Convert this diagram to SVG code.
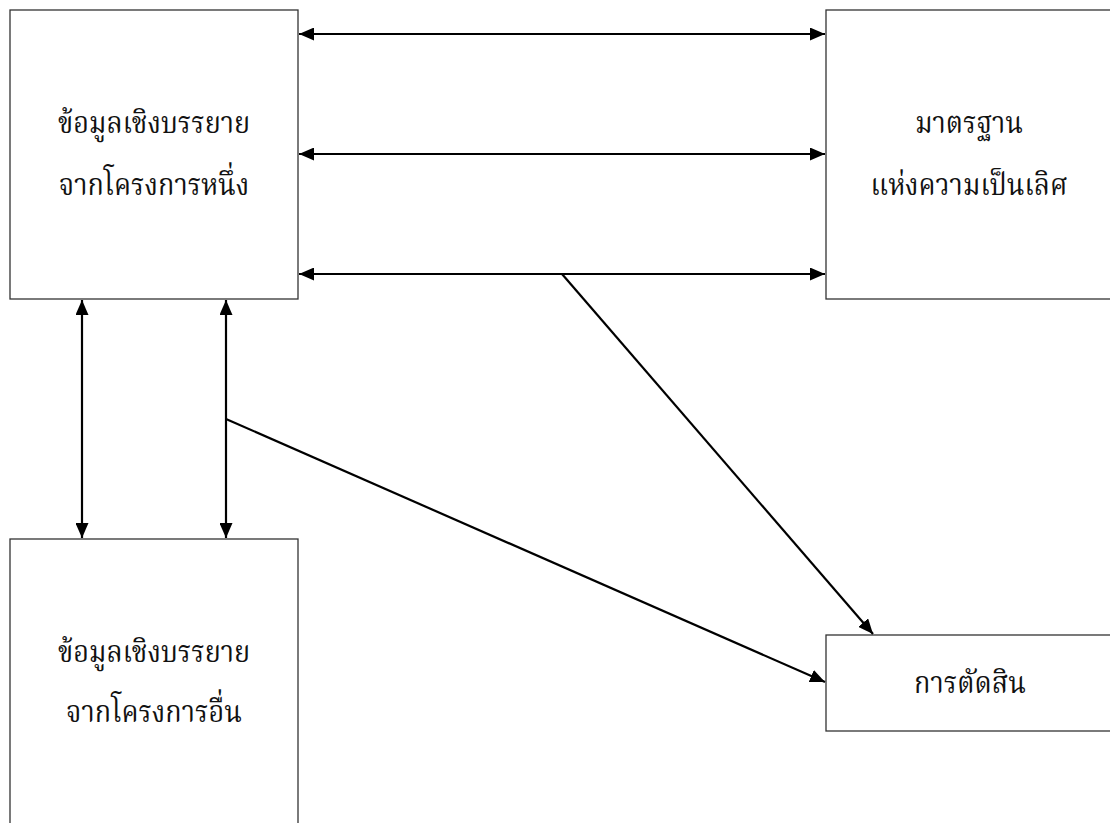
<svg xmlns="http://www.w3.org/2000/svg" width="1110" height="823" viewBox="0 0 1110 823">
<style>
.box{fill:#fff;stroke:#333;stroke-width:1.3}
.lbl{font-family:"Noto Serif Thai","Norasi","Liberation Serif",serif;font-size:31px;fill:#111;text-anchor:middle}
.con{stroke:#000;stroke-width:2.2;fill:none}
</style>
<defs>
<marker id="ah" viewBox="0 0 15 13" refX="15" refY="6.5" markerWidth="15" markerHeight="13" markerUnits="userSpaceOnUse" orient="auto-start-reverse">
<path d="M0,0 L15,6.5 L0,13 Z" fill="#000"/>
</marker>
</defs>
<rect width="1110" height="823" fill="#fff"/>
<g id="node-project-one">
<rect class="box" x="10" y="10" width="288" height="289"/>
<text class="lbl" transform="translate(154 133) scale(0.87 1)">ข้อมูลเชิงบรรยาย</text>
<text class="lbl" transform="translate(154 195) scale(0.87 1)">จากโครงการหนึ่ง</text>
</g>
<g id="node-standard">
<rect class="box" x="826" y="10" width="290" height="289"/>
<text class="lbl" transform="translate(969 133) scale(0.87 1)">มาตรฐาน</text>
<text class="lbl" transform="translate(969 195) scale(0.87 1)">แห่งความเป็นเลิศ</text>
</g>
<g id="node-project-other">
<rect class="box" x="10" y="539" width="288" height="300"/>
<text class="lbl" transform="translate(154 662) scale(0.87 1)">ข้อมูลเชิงบรรยาย</text>
<text class="lbl" transform="translate(154 722) scale(0.87 1)">จากโครงการอื่น</text>
</g>
<g id="node-judgement">
<rect class="box" x="826" y="635" width="290" height="96"/>
<text class="lbl" transform="translate(970 693) scale(0.87 1)">การตัดสิน</text>
</g>
<g id="connectors">
<line class="con" x1="299" y1="34" x2="825" y2="34" marker-start="url(#ah)" marker-end="url(#ah)"/>
<line class="con" x1="299" y1="154" x2="825" y2="154" marker-start="url(#ah)" marker-end="url(#ah)"/>
<line class="con" x1="299" y1="274" x2="825" y2="274" marker-start="url(#ah)" marker-end="url(#ah)"/>
<line class="con" x1="82" y1="300" x2="82" y2="538" marker-start="url(#ah)" marker-end="url(#ah)"/>
<line class="con" x1="226" y1="300" x2="226" y2="538" marker-start="url(#ah)" marker-end="url(#ah)"/>
<line class="con" x1="562" y1="274" x2="873" y2="634" marker-end="url(#ah)"/>
<line class="con" x1="226" y1="419" x2="825" y2="682" marker-end="url(#ah)"/>
</g>
</svg>
